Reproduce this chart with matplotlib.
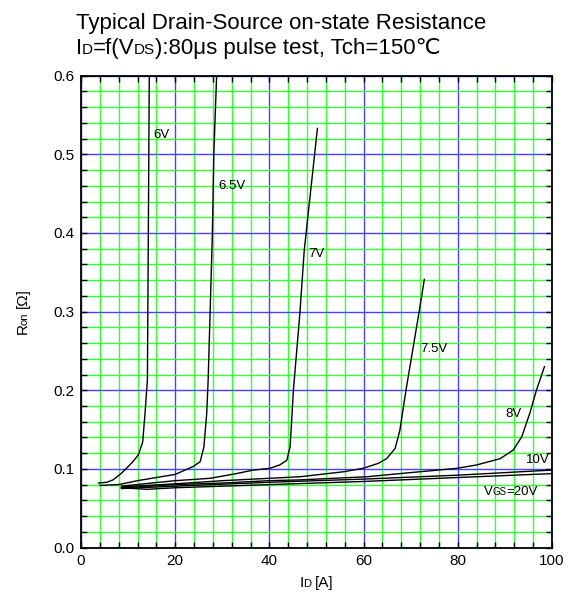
import matplotlib
matplotlib.use('Agg')
import matplotlib.pyplot as plt
from matplotlib.ticker import MultipleLocator

plt.rcParams['font.family'] = ['Liberation Sans', 'DejaVu Sans']

# Ron vs ID curves
i_6v = [3.7, 5.5, 6.8, 8.5, 9.7, 11.0, 12.2, 13.1, 13.6, 14.1, 14.3, 14.5]
r_6v = [0.082, 0.083, 0.086, 0.094, 0.101, 0.109, 0.118, 0.134, 0.171, 0.213, 0.40, 0.60]

i_65v = [4.0, 8.0, 12.0, 16.0, 20.0, 23.8, 25.3, 26.1, 26.7, 27.0, 27.9, 28.2, 28.8]
r_65v = [0.079, 0.080, 0.085, 0.089, 0.093, 0.103, 0.109, 0.128, 0.171, 0.213, 0.40, 0.50, 0.60]

i_7v = [8.6, 15.0, 20.0, 27.4, 33.0, 36.6, 40.1, 42.2, 43.7, 44.4, 45.1, 46.5, 47.4, 50.2]
r_7v = [0.078, 0.082, 0.085, 0.088, 0.094, 0.0985, 0.1007, 0.105, 0.111, 0.128, 0.20, 0.30, 0.378, 0.533]

i_75v = [8.6, 20.0, 30.0, 40.0, 46.5, 55.7, 59.9, 63.1, 64.9, 66.7, 67.7, 69.0, 71.8, 72.9]
r_75v = [0.077, 0.081, 0.085, 0.088, 0.090, 0.0963, 0.1007, 0.107, 0.113, 0.126, 0.149, 0.20, 0.30, 0.341]

i_8v = [8.6, 20.0, 30.0, 40.0, 46.5, 60.7, 67.7, 79.8, 84.0, 89.0, 91.8, 93.6, 95.3, 96.7, 98.4]
r_8v = [0.076, 0.080, 0.082, 0.085, 0.086, 0.090, 0.094, 0.1007, 0.105, 0.113, 0.124, 0.141, 0.171, 0.20, 0.23]

i_10v = [8.6, 20.0, 40.0, 60.0, 80.0, 100.0]
r_10v = [0.075, 0.078, 0.083, 0.087, 0.092, 0.0985]

i_20v = [8.6, 14.0, 20.0, 40.0, 60.0, 80.0, 100.0]
r_20v = [0.076, 0.074, 0.076, 0.080, 0.084, 0.089, 0.094]

curves = [(i_6v, r_6v), (i_65v, r_65v), (i_7v, r_7v), (i_75v, r_75v),
          (i_8v, r_8v), (i_10v, r_10v), (i_20v, r_20v)]

# curve labels: text, I, R
label_text = ['6V', '6.5V', '7V', '7.5V', '8V']
label_i = [15.3, 29.1, 48.2, 72.0, 90.0]
label_r = [0.521, 0.456, 0.369, 0.249, 0.166]

x_ticks = [0, 20, 40, 60, 80, 100]
y_ticks = [0.0, 0.1, 0.2, 0.3, 0.4, 0.5, 0.6]


def place_parts(fig, px, py, parts, rotation=0, align='center'):
    # px, py in pixels; parts: (text, fontsize, gap px before it)
    # small letters stay on the baseline like in the datasheet
    r = fig.canvas.get_renderer()
    texts = []
    for s, size, gap in parts:
        t = fig.text(0, 0, s, fontsize=size, ha='left', va='baseline',
                     rotation=rotation, rotation_mode='anchor', zorder=5)
        bb = t.get_window_extent(r)
        length = bb.width if rotation == 0 else bb.height
        texts.append((t, length, gap))
    total = sum(l + g for _, l, g in texts)
    W, H = fig.bbox.width, fig.bbox.height
    pos = {'center': -total / 2, 'left': 0, 'right': -total}[align]
    for t, l, g in texts:
        pos += g
        if rotation == 0:
            t.set_position(((px + pos) / W, py / H))
        else:
            t.set_position((px / W, (py + pos) / H))
        pos += l


fig = plt.figure(figsize=(5.76, 6.01), dpi=100, facecolor='w')
W, H = fig.bbox.width, fig.bbox.height
ax = fig.add_axes([0.1406, 0.0890, 0.8177, 0.7850])

for xs, ys in curves:
    ax.plot(xs, ys, color='black', lw=1.0, zorder=3)

# Decorations
ax.set_xlim(0, 100)
ax.set_ylim(0, 0.6)
ax.set_xticks(x_ticks)
ax.set_yticks(y_ticks)
ax.set_yticklabels(['%.1f' % v for v in y_ticks])
ax.xaxis.set_minor_locator(MultipleLocator(4))
ax.yaxis.set_minor_locator(MultipleLocator(0.02))
ax.grid(which='minor', color='#33ff33', lw=1.0, zorder=0)
ax.grid(which='major', color='#4444ff', lw=1.0, zorder=1)
ax.set_axisbelow(True)
ax.tick_params(which='both', direction='in', top=True, right=True,
               length=4, width=1.0, labelsize=11, pad=5)
for sp in ax.spines.values():
    sp.set_linewidth(1.3)

for txt, xi, yr in zip(label_text, label_i, label_r):
    ax.text(xi, yr, txt, fontsize=9.5, ha='left', va='baseline', zorder=4)

px, py = ax.transData.transform((99.6, 0.107))
place_parts(fig, px, py, [('10V', 9.5, 0)], align='right')
px, py = ax.transData.transform((85.6, 0.067))
place_parts(fig, px, py, [('V', 9.5, 0), ('GS', 7, -0.5), ('=20V', 9.5, -0.5)], align='left')

place_parts(fig, 0.132 * W, 0.951 * H,
            [('Typical Drain-Source on-state Resistance', 16, 0)], align='left')
place_parts(fig, 0.132 * W, 0.910 * H,
            [('I', 16, 0), ('D', 11, -0.5), ('=f(V', 16, 0), ('DS', 11, -0.5),
             ('):80μs pulse test, Tch=150℃', 16, 0)], align='left')
place_parts(fig, 0.55 * W, 0.0233 * H, [('I', 11, 0), ('D', 8, -0.5), ('[A]', 11, 4)])
place_parts(fig, 0.047 * W, 0.482 * H,
            [('R', 11, 0), ('on', 8, -1.5), ('[Ω]', 11, 4)], rotation=90)

fig.savefig('out.png', dpi=100, facecolor='w')
